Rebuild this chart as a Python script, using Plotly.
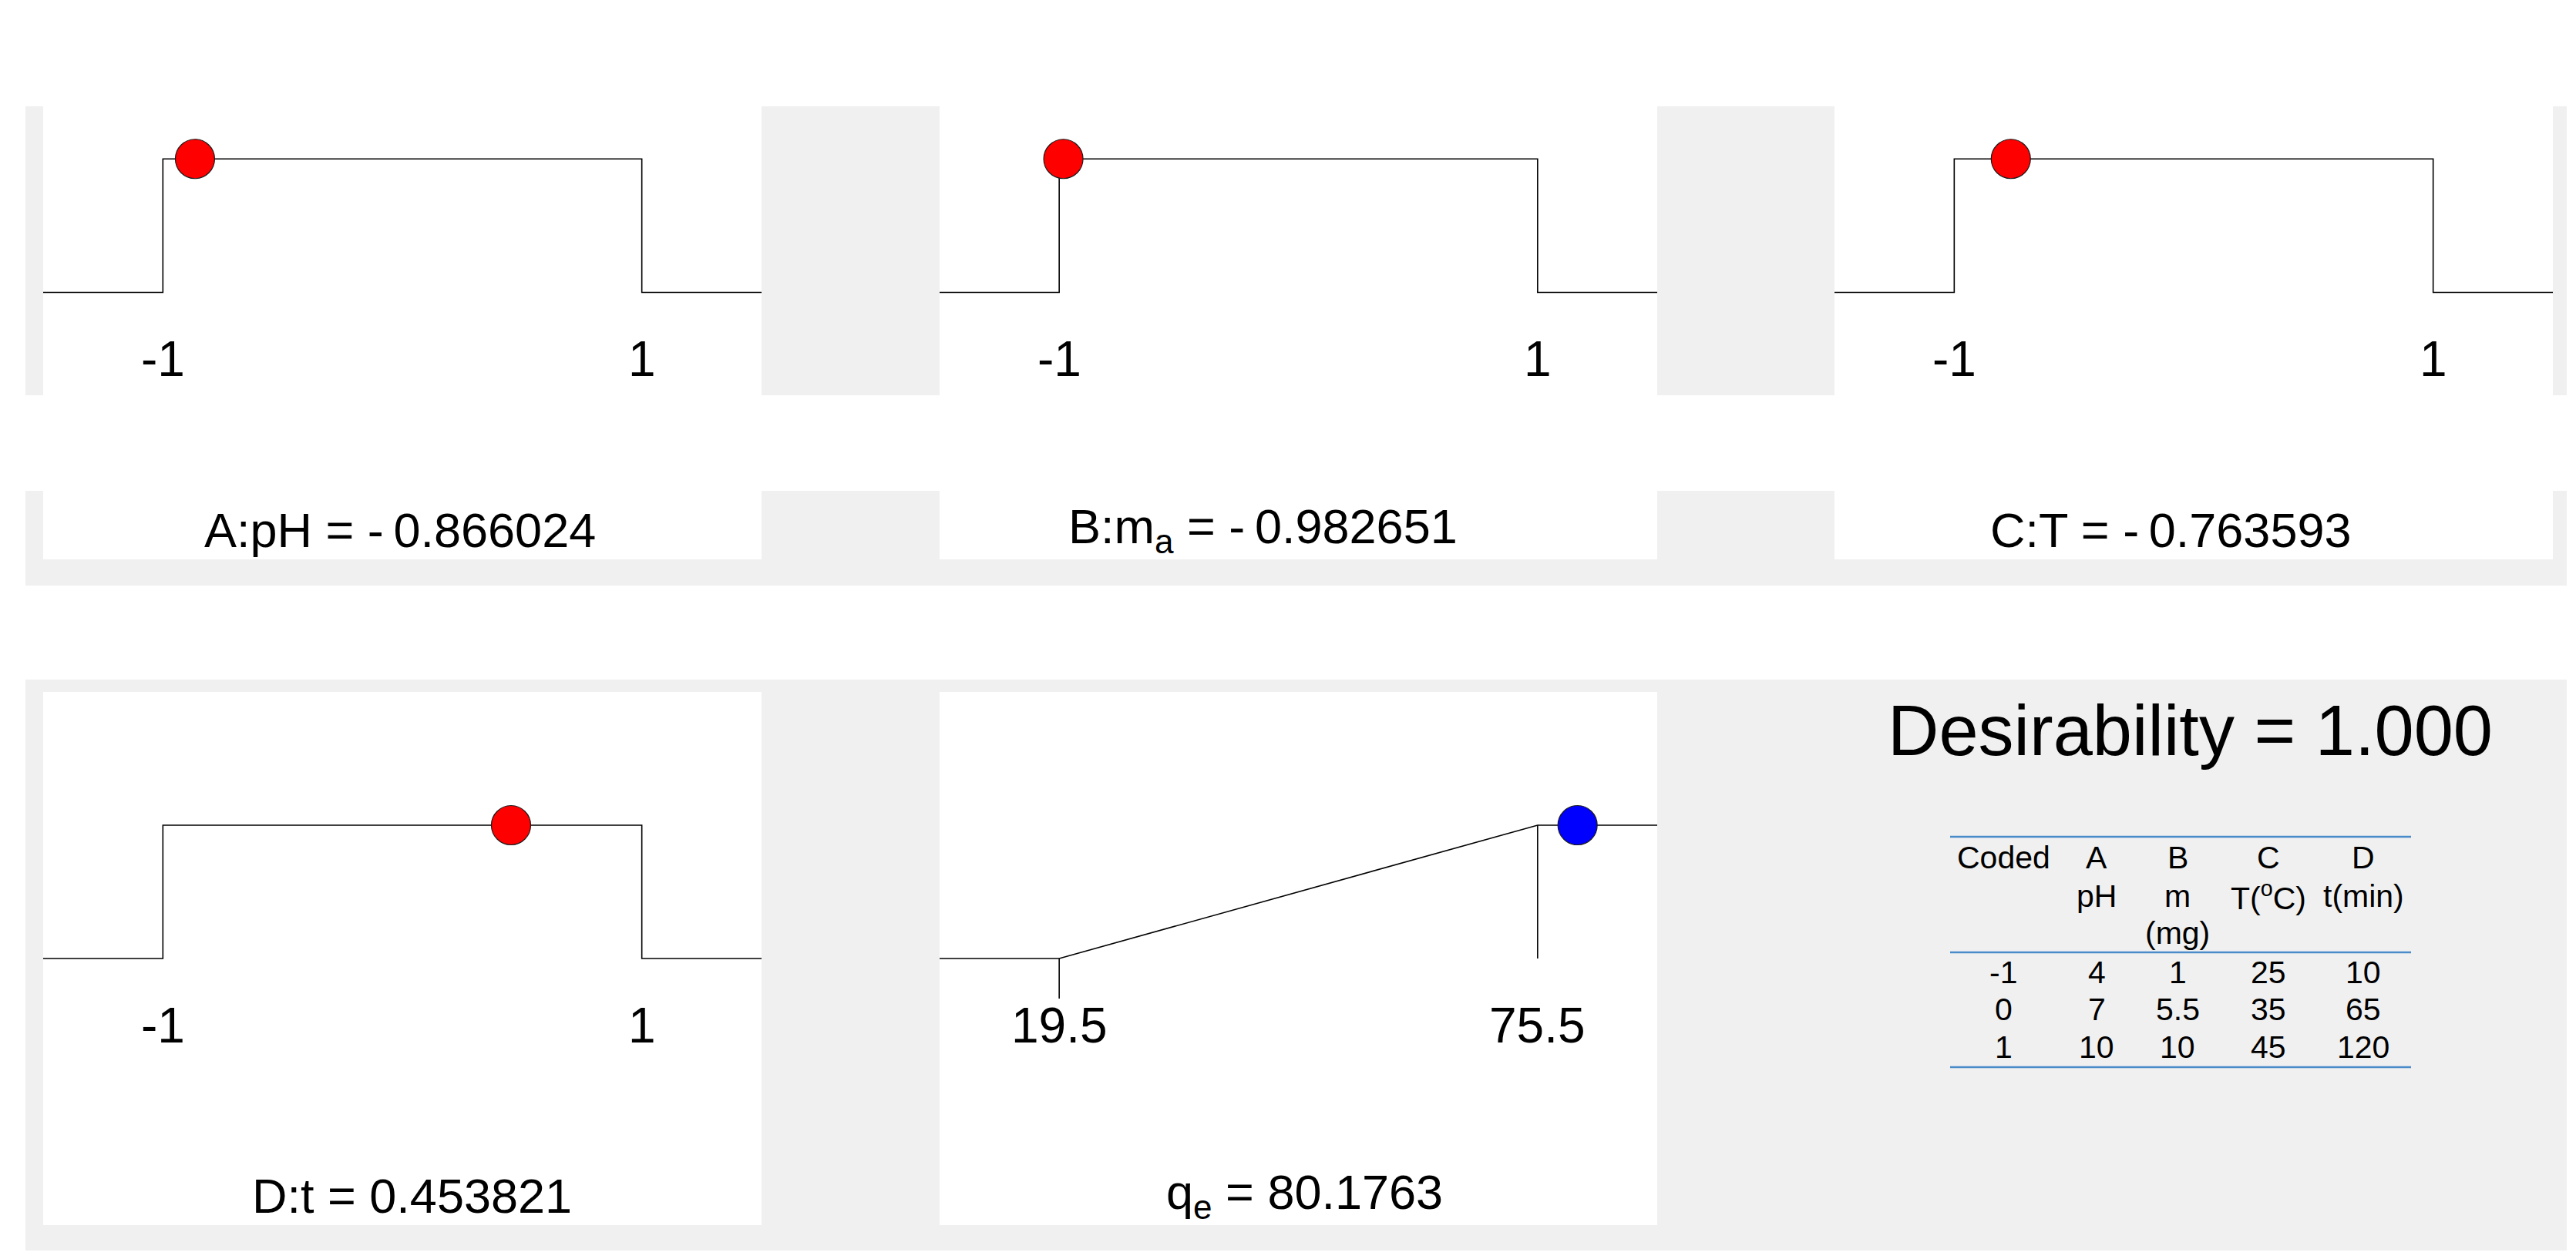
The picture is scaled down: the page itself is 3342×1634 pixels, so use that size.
import plotly.graph_objects as go

W, H = 3342, 1634
FONT = "Liberation Sans, Arial, sans-serif"

# ---------------- data ----------------
factor_labels = ["A:pH", "B:m<sub>a</sub>", "C:T", "D:t"]
factor_values = [-0.866024, -0.982651, -0.763593, 0.453821]
factor_low, factor_high = -1, 1
factor_desirability = [1, 1, 1, 1]

response_label = "q<sub>e</sub>"
response_low, response_high = 19.5, 75.5
response_value = 80.1763
response_desirability = 1

desirability = 1.000

table_header1 = ["Coded", "A", "B", "C", "D"]
table_header2 = ["", "pH", "m", "T(<sup>o</sup>C)", "t(min)"]
table_header3 = ["", "", "(mg)", "", ""]
table_coded = ["-1", "0", "1"]
table_A = ["4", "7", "10"]
table_B = ["1", "5.5", "10"]
table_C = ["25", "35", "45"]
table_D = ["10", "65", "120"]


def fmt_value(v, nd):
    s = f"{abs(v):.{nd}f}"
    return ("-\u2009" + s) if v < 0 else s


# ---------------- layout helpers ----------------
def fx(p):
    return p / W


def fy(p):
    return 1 - p / H


panels = [(48, 980, 25, 718), (1211, 2142, 25, 718), (2372, 3304, 25, 718),
          (48, 980, 890, 1582), (1211, 2142, 890, 1582)]
label_cx = [511, 1630, 2808, 526, 1684]

fig = go.Figure()
shapes = []
annotations = []

# gray bands
for x0, x1, y0, y1 in [(25, 3322, 130, 505), (25, 3322, 629, 752), (25, 3322, 874, 1615)]:
    shapes.append(dict(type="rect", xref="paper", yref="paper", x0=fx(x0), x1=fx(x1),
                       y0=fy(y1), y1=fy(y0), fillcolor="#f0f0f0", line=dict(width=0), layer="below"))
# white panels
for x0, x1, y0, y1 in panels:
    shapes.append(dict(type="rect", xref="paper", yref="paper", x0=fx(x0), x1=fx(x1),
                       y0=fy(y1), y1=fy(y0), fillcolor="white", line=dict(width=0), layer="below"))

layout = {}
YR = [-2.0, 2.0]
pad = 0.5 * (factor_high - factor_low) / 2

for i, (x0, x1, y0, y1) in enumerate(panels):
    n = "" if i == 0 else str(i + 1)
    layout["xaxis" + n] = dict(domain=[fx(x0), fx(x1)], anchor="y" + n, visible=False, fixedrange=True)
    layout["yaxis" + n] = dict(domain=[fy(y1), fy(y0)], anchor="x" + n, visible=False, fixedrange=True,
                               range=YR)

TICKFONT = dict(family=FONT, size=64, color="black")
LABELFONT = dict(family=FONT, size=63, color="black")

# factor panels
for i in range(4):
    n = "" if i == 0 else str(i + 1)
    xr = [factor_low - pad, factor_high + pad]
    layout["xaxis" + n]["range"] = xr
    fig.add_trace(go.Scatter(
        x=[xr[0], factor_low, factor_low, factor_high, factor_high, xr[1]],
        y=[0, 0, 1, 1, 0, 0], mode="lines", line=dict(color="black", width=1.6),
        xaxis="x" + n, yaxis="y" + n, hoverinfo="skip", showlegend=False))
    fig.add_trace(go.Scatter(
        x=[factor_values[i]], y=[factor_desirability[i]], mode="markers",
        marker=dict(size=51, color="#ff0000", line=dict(color="#1a1a1a", width=1.2)),
        xaxis="x" + n, yaxis="y" + n, hoverinfo="skip", showlegend=False))
    for t in [factor_low, factor_high]:
        annotations.append(dict(x=t, y=-0.5, xref="x" + n, yref="y" + n, text=str(t), showarrow=False,
                                font=TICKFONT, xanchor="center", yanchor="middle"))
    annotations.append(dict(x=fx(label_cx[i]), y=-1.78, xref="paper", yref="y" + n,
                            text=f"{factor_labels[i]} = {fmt_value(factor_values[i], 6)}", showarrow=False,
                            font=LABELFONT, xanchor="center", yanchor="middle"))

# response panel
span = response_high - response_low
rr = [response_low - span / 4, response_high + span / 4]
layout["xaxis5"]["range"] = rr
fig.add_trace(go.Scatter(
    x=[rr[0], response_low, response_high, rr[1]], y=[0, 0, 1, 1], mode="lines",
    line=dict(color="black", width=1.6), xaxis="x5", yaxis="y5", hoverinfo="skip", showlegend=False))
fig.add_trace(go.Scatter(
    x=[response_low, response_low], y=[0, -0.30], mode="lines",
    line=dict(color="black", width=1.6), xaxis="x5", yaxis="y5", hoverinfo="skip", showlegend=False))
fig.add_trace(go.Scatter(
    x=[response_high, response_high], y=[1, 0], mode="lines",
    line=dict(color="black", width=1.6), xaxis="x5", yaxis="y5", hoverinfo="skip", showlegend=False))
fig.add_trace(go.Scatter(
    x=[response_value], y=[response_desirability], mode="markers",
    marker=dict(size=51, color="#0000ff", line=dict(color="#1a1a1a", width=1.2)),
    xaxis="x5", yaxis="y5", hoverinfo="skip", showlegend=False))
for t in [response_low, response_high]:
    annotations.append(dict(x=t, y=-0.5, xref="x5", yref="y5", text=str(t), showarrow=False,
                            font=TICKFONT, xanchor="center", yanchor="middle"))
annotations.append(dict(x=fx(label_cx[4]), y=-1.78, xref="paper", yref="y5",
                        text=f"{response_label} = {fmt_value(response_value, 4)}", showarrow=False,
                        font=LABELFONT, xanchor="center", yanchor="middle"))

# desirability text
annotations.append(dict(x=fx(2833), y=fy(940), xref="paper", yref="paper",
                        text=f"Desirability = {desirability:.3f}", showarrow=False,
                        font=dict(family=FONT, size=92, color="black"),
                        xanchor="center", yanchor="middle"))

# table
col_x = [2591, 2712, 2817, 2935, 3058]
line_y = [1078, 1228, 1377]
for ly in line_y:
    shapes.append(dict(type="line", xref="paper", yref="paper", x0=fx(2522), x1=fx(3120),
                       y0=fy(ly), y1=fy(ly), line=dict(color="#4a8bc9", width=2.5)))
header_rows = [(table_header1, 1105), (table_header2, 1155), (table_header3, 1203)]
cols = [table_coded, table_A, table_B, table_C, table_D]
body_y = [1254, 1302, 1351]
tfont = dict(family=FONT, size=41, color="black")
for row, yy in header_rows:
    for j, txt in enumerate(row):
        if txt:
            annotations.append(dict(x=fx(col_x[j]), y=fy(yy), xref="paper", yref="paper", text=txt,
                                    showarrow=False, font=tfont, xanchor="center", yanchor="middle"))
for j, col in enumerate(cols):
    for r, txt in enumerate(col):
        annotations.append(dict(x=fx(col_x[j]), y=fy(body_y[r]), xref="paper", yref="paper", text=txt,
                                showarrow=False, font=tfont, xanchor="center", yanchor="middle"))

fig.update_layout(width=W, height=H, margin=dict(l=0, r=0, t=0, b=0),
                  paper_bgcolor="white", plot_bgcolor="rgba(0,0,0,0)",
                  shapes=shapes, annotations=annotations, showlegend=False, **layout)
fig.write_html("out.html", config={"displayModeBar": False})
